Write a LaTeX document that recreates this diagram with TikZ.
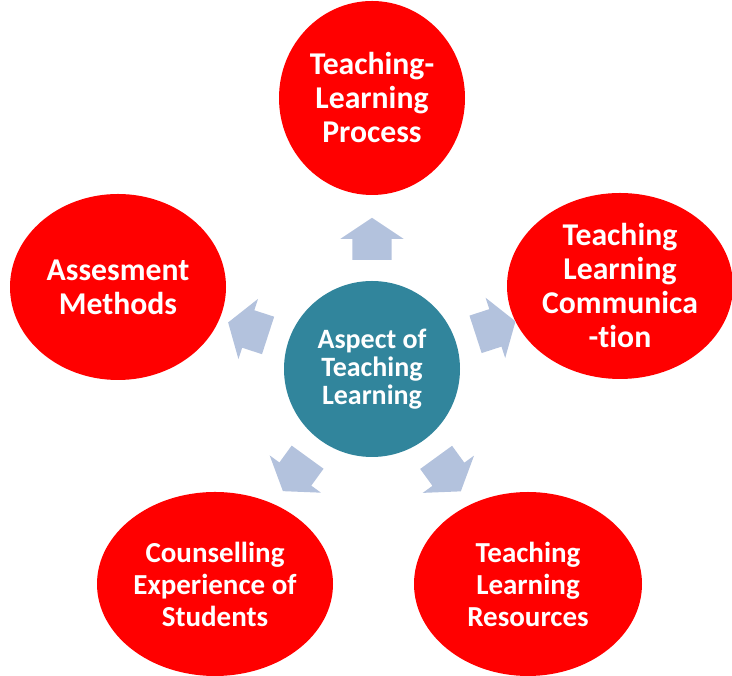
\documentclass[tikz,border=0pt]{standalone}
\usepackage{fontspec}
\setmainfont{Carlito}[Ligatures=NoCommon]
\usepackage{xcolor}
\usetikzlibrary{positioning,shapes.geometric,shapes.arrows,calc}

\definecolor{aspteal}{RGB}{49,133,156}
\definecolor{asparrow}{RGB}{179,194,221}

\begin{document}
\begin{tikzpicture}[x=1pt,y=1pt,
    outer/.style={ellipse,fill=red,inner sep=0pt,align=center,text=white,
        font=\fontsize{31.7}{34}\selectfont\bfseries},
    lower/.style={outer,font=\fontsize{29}{32}\selectfont\bfseries},
    hub/.style={circle,fill=aspteal,minimum size=176,inner sep=0pt,align=center,
        text=white,font=\fontsize{28}{28}\selectfont\bfseries},
    blockarrow/.style={single arrow,fill=asparrow,inner xsep=0pt,inner ysep=19.5pt,
        minimum height=42pt,single arrow head extend=12pt,single arrow tip angle=112.6,
        anchor=tail}]
    \clip (0,0) rectangle (732,676);
    \node[hub] (asp) at (372,307) {Aspect of\\Teaching\\Learning};
    \node[outer,minimum width=186,minimum height=194] (tlp) at (372,578) {Teaching-\\Learning\\Process};
    \node[outer,minimum width=226,minimum height=186] (tlc) at (620,390) {Teaching\\Learning\\Communica\\-tion};
    \node[lower,minimum width=228,minimum height=184] (tlr) at (528,92) {Teaching\\Learning\\Resources};
    \node[lower,minimum width=236,minimum height=184] (ces) at (215,92) {Counselling\\Experience of\\Students};
    \node[outer,minimum width=216,minimum height=186] (asm) at (118,389) {Assesment\\Methods};
    % arrows pointing out from the hub
    \node[blockarrow,rotate=90] (a1) at ($(asp)!109pt!(tlp)$) {};
    \node[blockarrow,rotate=18] (a2) at ($(asp)!109pt!(tlc)$) {};
    \node[blockarrow,rotate=-54] (a3) at ($(asp)!109pt!(tlr)$) {};
    \node[blockarrow,rotate=-126] (a4) at ($(asp)!109pt!(ces)$) {};
    \node[blockarrow,rotate=162] (a5) at ($(asp)!109pt!(asm)$) {};
\end{tikzpicture}
\end{document}
